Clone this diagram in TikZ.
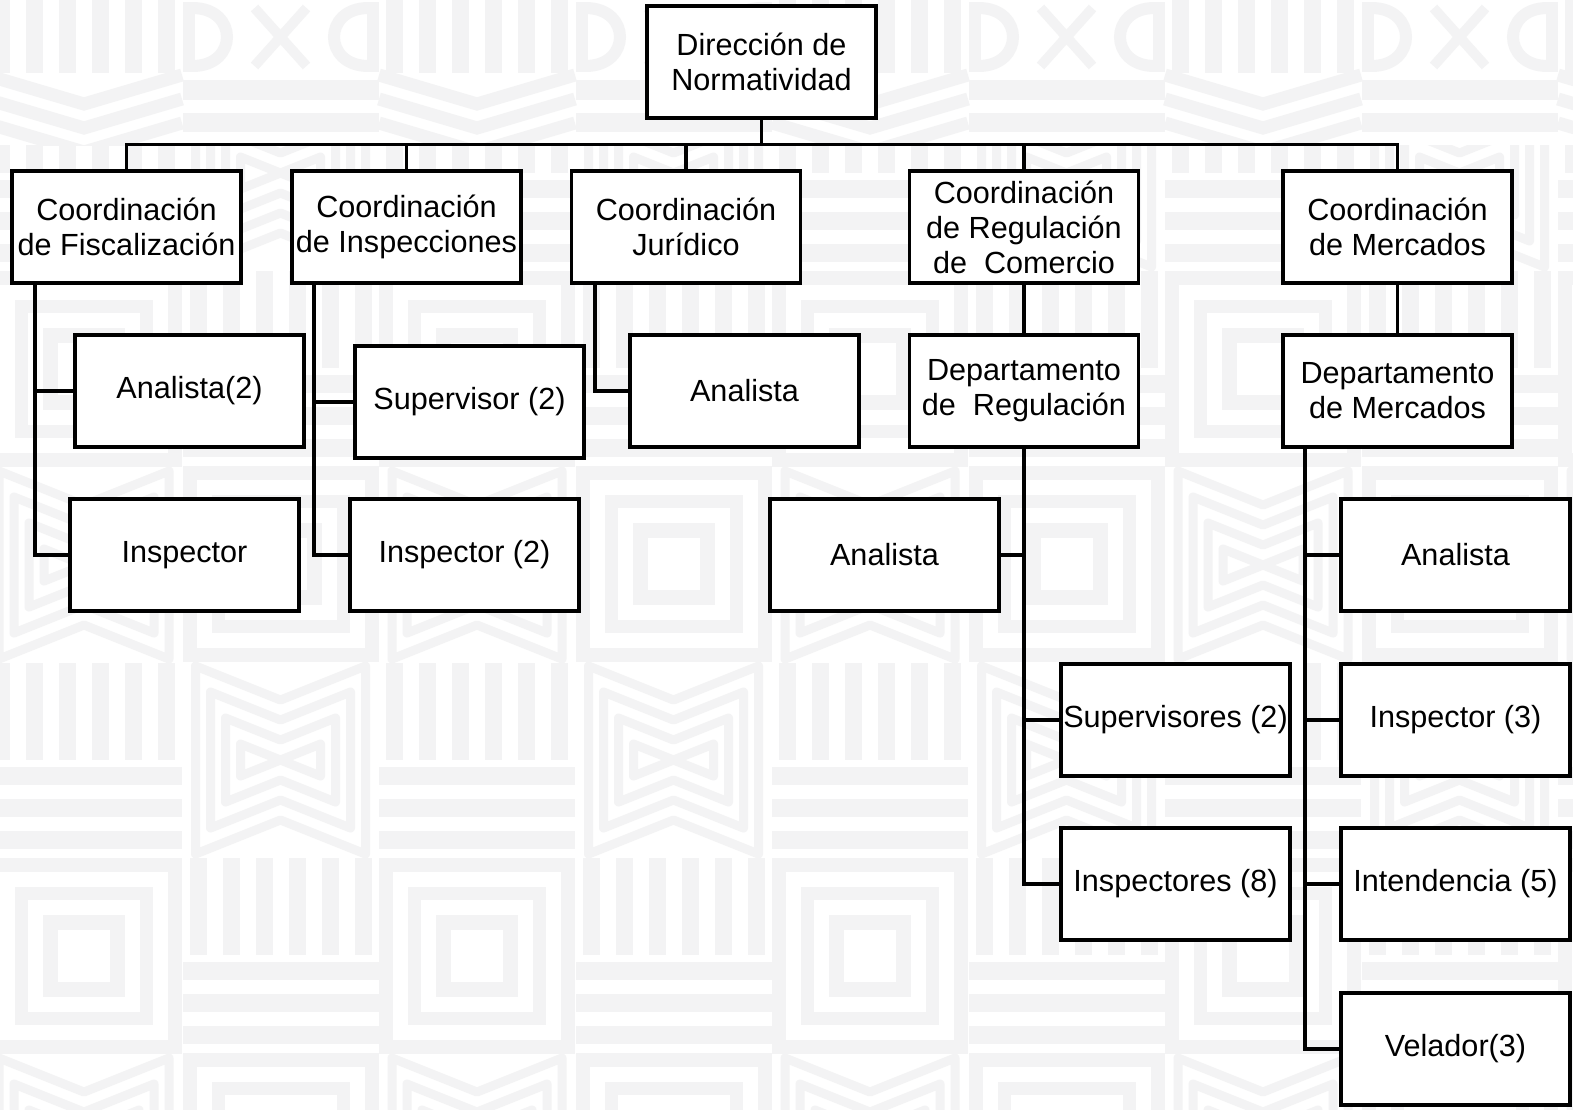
\documentclass[tikz,border=0pt]{standalone}
\usepackage{fontspec}
\setmainfont{Liberation Sans}
\usetikzlibrary{calc}
\definecolor{bgc}{RGB}{243,243,244}
\newcommand\bgunit[2]{%
 \fill[bgc] ({#1-98},{#2-98}) rectangle ({#1+98},{#2+98});
 \fill[white] ({#1-84},{#2-84}) rectangle ({#1+84},{#2+84});
 \fill[bgc] ({#1-69},{#2-69}) rectangle ({#1+69},{#2+69});
 \fill[white] ({#1-56},{#2-56}) rectangle ({#1+56},{#2+56});
 \fill[bgc] ({#1-41},{#2-41}) rectangle ({#1+41},{#2+41});
 \fill[white] ({#1-26},{#2-26}) rectangle ({#1+26},{#2+26});
 \foreach \ww/\dd in {40/0,55/20,70/40,85/60}{%
   \draw[bgc,line width=9pt,line join=round] ({#1-\ww},{#2+196-\dd-0.4*\ww}) -- ({#1},{#2+196-\dd}) -- ({#1+\ww},{#2+196-\dd-0.4*\ww}) -- ({#1+\ww},{#2+196+\dd+0.4*\ww}) -- ({#1},{#2+196+\dd}) -- ({#1-\ww},{#2+196+\dd+0.4*\ww}) -- cycle;}
 \foreach \ss in {0,...,5}{\fill[bgc] ({#1-91+33*\ss},{#2+294}) rectangle ++(17,97);}
 \foreach \hh in {398,430,462}{\fill[bgc] ({#1-98},{#2+\hh}) rectangle ++(196,18);}
}
\newcommand\bgtopA[1]{%
 \foreach \ss in {0,...,5}{\fill[bgc] ({#1-91+33*\ss},0) rectangle ++(17,73);}
 \foreach \vv in {104,128,152}{\draw[bgc,line width=13pt] ({#1-98},{\vv-29}) -- ({#1},{\vv}) -- ({#1+98},{\vv-29});}
}
\newcommand\bgtopB[1]{%
 \fill[bgc] ({#1-98},80) rectangle ({#1+98},100);
 \fill[bgc] ({#1-98},113) rectangle ({#1+98},132);
 \fill[bgc] ({#1-98},2) rectangle ({#1-86},72);
 \fill[bgc] ({#1+86},2) rectangle ({#1+98},72);
 \draw[bgc,line width=12pt] ({#1-88},8) .. controls ({#1-42},8) and ({#1-42},66) .. ({#1-88},66);
 \draw[bgc,line width=12pt] ({#1+88},8) .. controls ({#1+42},8) and ({#1+42},66) .. ({#1+88},66);
 \draw[bgc,line width=10pt] ({#1-26},8) -- ({#1+26},66);
 \draw[bgc,line width=10pt] ({#1+26},8) -- ({#1-26},66);
}
\begin{document}
\begin{tikzpicture}[x=1pt,y=-1pt,
  box/.style={draw=black, line width=3.8pt, fill=white, minimum width=229pt, minimum height=112pt, inner sep=0pt, align=center, font=\fontsize{30.6}{35}\selectfont},
  conn/.style={line width=3.8pt, draw=black}]
\useasboundingbox (0,0) rectangle (1573,1109);
\fill[white] (0,0) rectangle (1573,1109);
% background pattern
\begin{scope}
\clip (0,145) rectangle (1573,1109);
\foreach \cx in {84,477,870,1263,1656}{\foreach \Y in {-218,369,956,1543}{\bgunit{\cx}{\Y}}}
\foreach \cx in {280.5,673.5,1066.5,1459.5}{\foreach \Y in {-23,564,1151}{\bgunit{\cx}{\Y}}}
\end{scope}
\begin{scope}
\clip (0,0) rectangle (1573,145);
\foreach \cx in {84,477,870,1263,1656}{\bgtopA{\cx}}
\foreach \cx in {280.5,673.5,1066.5,1459.5}{\bgtopB{\cx}}
\end{scope}
% coordinates
\coordinate (bus) at (0,144.5);
\coordinate (spF) at (35,0);
\coordinate (spI) at (314,0);
\coordinate (spJ) at (595,0);
\coordinate (spM) at (1305,0);
% nodes
\node[box] (top) at (761.5,62) {Dirección de\\Normatividad};
\node[box] (fisc) at (126.5,227) {Coordinación\\de Fiscalización};
\node[box] (insp) at (406.5,227) {Coordinación\\de Inspecciones};
\node[box] (jur) at (686,227) {Coordinación\\Jurídico};
\node[box] (reg) at (1024,227) {Coordinación\\de Regulación\\de\ \ Comercio};
\node[box] (merc) at (1397.5,227) {Coordinación\\de Mercados};
\node[box] (an1) at (189.5,391) {Analista(2)};
\node[box] (in1) at (184.5,555) {Inspector};
\node[box] (sup1) at (469.5,402) {Supervisor (2)};
\node[box] (in2) at (464.5,555) {Inspector (2)};
\node[box] (an3) at (744.5,391) {Analista};
\node[box] (dreg) at (1024,391) {Departamento\\de\ \ Regulación};
\node[box] (an4) at (884.5,555) {Analista};
\node[box] (sup4) at (1175.5,720) {Supervisores (2)};
\node[box] (in4) at (1175.5,884) {Inspectores (8)};
\node[box] (dmerc) at (1397.5,391) {Departamento\\de Mercados};
\node[box] (an5) at (1455.5,555) {Analista};
\node[box] (in5) at (1455.5,720) {Inspector (3)};
\node[box] (int5) at (1455.5,884) {Intendencia (5)};
\node[box] (vel5) at (1455.5,1049) {Velador(3)};
% connectors
\draw[conn] (fisc.north) -- (fisc.north |- bus) -- (merc.north |- bus) -- (merc.north);
\draw[conn] (top.south) -- (top.south |- bus);
\draw[conn] (insp.north) -- (insp.north |- bus);
\draw[conn] (jur.north) -- (jur.north |- bus);
\draw[conn] (reg.north) -- (reg.north |- bus);
\draw[conn] (fisc.south -| spF) |- (in1.west);
\draw[conn] (an1.west) -- (an1.west -| spF);
\draw[conn] (insp.south -| spI) |- (in2.west);
\draw[conn] (sup1.west) -- (sup1.west -| spI);
\draw[conn] (jur.south -| spJ) |- (an3.west);
\draw[conn] (reg.south) -- (dreg.north);
\draw[conn] (dreg.south) |- (in4.west);
\draw[conn] (sup4.west) -- (sup4.west -| dreg.south);
\draw[conn] (an4.east) -- (an4.east -| dreg.south);
\draw[conn] (merc.south) -- (dmerc.north);
\draw[conn] (dmerc.south -| spM) |- (vel5.west);
\draw[conn] (an5.west) -- (an5.west -| spM);
\draw[conn] (in5.west) -- (in5.west -| spM);
\draw[conn] (int5.west) -- (int5.west -| spM);
\end{tikzpicture}
\end{document}
